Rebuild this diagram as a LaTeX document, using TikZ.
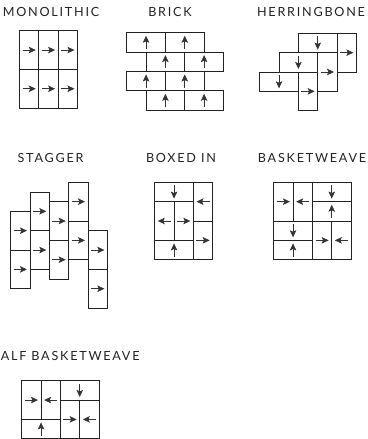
\documentclass[tikz,border=0pt]{standalone}
\usepackage{fontspec}
\setmainfont{Lato}
\usetikzlibrary{arrows.meta}
\definecolor{ink}{HTML}{222222}
\tikzset{
  brick/.style={draw=ink, line width=0.85pt},
  flow/.style={-{Stealth[length=7pt,width=6.5pt,inset=1.5pt]}, draw=black!80, line width=0.6pt},
  tag/.style={text=ink, inner sep=0pt, font=\fontsize{12.6}{14}\selectfont\addfontfeatures{LetterSpace=14}},
  panel/.style={x=19.35pt, y=-19.35pt}
}
\begin{document}
\begin{tikzpicture}[x=1pt, y=-1pt]
    \useasboundingbox (0,0) rectangle (367,439);
    % Titles
    \node[tag] (tagMono) at (51,12) {MONOLITHIC};
    \node[tag] (tagBrick) at (170,12) {BRICK};
    \node[tag] (tagHerring) at (311,12) {HERRINGBONE};
    \node[tag] (tagStagger) at (50.5,158) {STAGGER};
    \node[tag] (tagBoxed) at (181,158) {BOXED IN};
    \node[tag] (tagBasket) at (312,158) {BASKETWEAVE};
    \node[tag, anchor=east] (tagHalf) at (139.7,356) {HALF BASKETWEAVE};
    % Monolithic
    \begin{scope}[shift={(19.5,30.7)}, panel]
        \foreach \x in {0,1,2} {
            \draw[brick] (\x,0) rectangle (\x+1,2); \draw[brick] (\x,2) rectangle (\x+1,4);
            \draw[flow] (\x+0.16,1) -- (\x+0.84,1);
            \draw[flow] (\x+0.16,3) -- (\x+0.84,3);
        }
    \end{scope}
    % Brick
    \begin{scope}[shift={(126.7,32.7)}, panel]
        \foreach \y in {0,2} {
            \draw[brick] (0,\y) rectangle (2,\y+1); \draw[brick] (2,\y) rectangle (4,\y+1);
            \draw[brick] (1,\y+1) rectangle (3,\y+2); \draw[brick] (3,\y+1) rectangle (5,\y+2);
            \draw[flow] (1,\y+0.84) -- (1,\y+0.16); \draw[flow] (3,\y+0.84) -- (3,\y+0.16);
            \draw[flow] (2,\y+1.84) -- (2,\y+1.16); \draw[flow] (4,\y+1.84) -- (4,\y+1.16);
        }
    \end{scope}
    % Herringbone
    \begin{scope}[shift={(259.7,33.3)}, panel]
        \draw[brick] (2,0) rectangle (4,1); \draw[brick] (4,0) rectangle (5,2);
        \draw[brick] (1,1) rectangle (3,2); \draw[brick] (3,1) rectangle (4,3);
        \draw[brick] (0,2) rectangle (2,3); \draw[brick] (2,2) rectangle (3,4);
        \draw[flow] (3,0.16) -- (3,0.84); \draw[flow] (2,1.16) -- (2,1.84); \draw[flow] (1,2.16) -- (1,2.84);
        \draw[flow] (4.16,1) -- (4.84,1); \draw[flow] (3.16,2) -- (3.84,2); \draw[flow] (2.16,3) -- (2.84,3);
    \end{scope}
    % Stagger
    \begin{scope}[shift={(10.7,182.3)}, panel]
        \foreach \x/\y in {0/1.5, 1/0.5, 2/1, 3/0, 4/2.5} {
            \draw[brick] (\x,\y) rectangle (\x+1,\y+2); \draw[brick] (\x,\y+2) rectangle (\x+1,\y+4);
            \draw[flow] (\x+0.16,\y+1) -- (\x+0.84,\y+1);
            \draw[flow] (\x+0.16,\y+3) -- (\x+0.84,\y+3);
        }
    \end{scope}
    % Boxed in
    \begin{scope}[shift={(154.7,182.3)}, panel]
        \draw[brick] (0,0) rectangle (2,1); \draw[brick] (0,1) rectangle (1,3); \draw[brick] (1,1) rectangle (2,3);
        \draw[brick] (0,3) rectangle (2,4); \draw[brick] (2,0) rectangle (3,2); \draw[brick] (2,2) rectangle (3,4);
        \draw[flow] (1,0.16) -- (1,0.84); \draw[flow] (0.84,2) -- (0.16,2); \draw[flow] (1.16,2) -- (1.84,2);
        \draw[flow] (1,3.84) -- (1,3.16); \draw[flow] (2.84,1) -- (2.16,1); \draw[flow] (2.16,3) -- (2.84,3);
    \end{scope}
    % Basketweave
    \begin{scope}[shift={(273.7,182.3)}, panel]
        \draw[brick] (0,0) rectangle (1,2); \draw[brick] (1,0) rectangle (2,2);
        \draw[brick] (2,0) rectangle (4,1); \draw[brick] (2,1) rectangle (4,2);
        \draw[brick] (0,2) rectangle (2,3); \draw[brick] (0,3) rectangle (2,4);
        \draw[brick] (2,2) rectangle (3,4); \draw[brick] (3,2) rectangle (4,4);
        \draw[flow] (0.16,1) -- (0.84,1); \draw[flow] (1.84,1) -- (1.16,1);
        \draw[flow] (3,0.16) -- (3,0.84); \draw[flow] (3,1.84) -- (3,1.16);
        \draw[flow] (1,2.16) -- (1,2.84); \draw[flow] (1,3.84) -- (1,3.16);
        \draw[flow] (2.16,3) -- (2.84,3); \draw[flow] (3.84,3) -- (3.16,3);
    \end{scope}
    % Half basketweave
    \begin{scope}[shift={(21.7,380.7)}, panel]
        \draw[brick] (0,0) rectangle (1,2); \draw[brick] (1,0) rectangle (2,2); \draw[brick] (0,2) rectangle (2,3);
        \draw[brick] (2,0) rectangle (4,1); \draw[brick] (2,1) rectangle (3,3); \draw[brick] (3,1) rectangle (4,3);
        \draw[flow] (0.16,1) -- (0.84,1); \draw[flow] (1.84,1) -- (1.16,1); \draw[flow] (1,2.84) -- (1,2.16);
        \draw[flow] (3,0.16) -- (3,0.84); \draw[flow] (2.16,2) -- (2.84,2); \draw[flow] (3.84,2) -- (3.16,2);
    \end{scope}
\end{tikzpicture}
\end{document}
